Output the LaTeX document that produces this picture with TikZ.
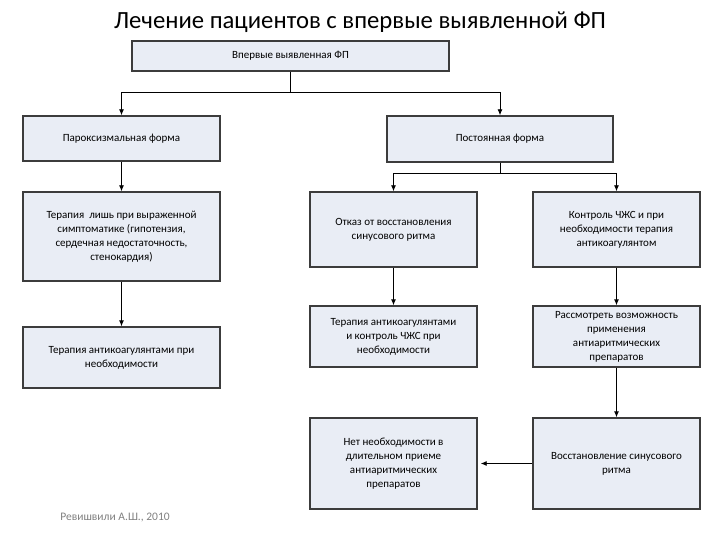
\documentclass[tikz,border=0pt]{standalone}
\usepackage{fontspec}
\setmainfont{Carlito}
\usetikzlibrary{arrows.meta}
\definecolor{boxfill}{HTML}{E9EDF5}
\definecolor{boxline}{HTML}{3C3C3C}
\tikzset{
  box/.style={draw=boxline, line width=1.4pt, fill=boxfill, align=center,
    inner sep=2pt, font=\fontsize{11}{14}\selectfont},
  link/.style={line width=0.9pt, ->}
}
\begin{document}
\begin{tikzpicture}[x=1pt, y=-1pt, >={Latex[length=6pt,width=5pt]}]
	\useasboundingbox (0,0) rectangle (720,540);
	%\draw[lightgray] (0,0) grid[step=20] (720,540);
	\node (title) at (360,22) {\fontsize{24.7}{28}\selectfont Лечение пациентов с впервые выявленной ФП};
	% first row
	\node[box, minimum width=317pt, minimum height=30pt] (first) at (290.5,56) {Впервые выявленная ФП};
	\node[box, minimum width=197pt, minimum height=45pt] (parox) at (121.5,138.5) {Пароксизмальная форма};
	\node[box, minimum width=226pt, minimum height=46pt] (perm) at (500,139) {Постоянная форма};
	% left column
	\node[box, minimum width=197pt, minimum height=89pt] (sympt) at (121.5,236.5) {Терапия \ лишь при выраженной\\симптоматике (гипотензия,\\сердечная недостаточность,\\стенокардия)};
	\node[box, minimum width=197pt, minimum height=61pt] (anticoag) at (121.5,357.5) {Терапия антикоагулянтами при\\необходимости};
	% middle column
	\node[box, minimum width=167pt, minimum height=75pt] (refuse) at (393.5,229.5) {Отказ от восстановления\\синусового ритма};
	\node[box, minimum width=167pt, minimum height=61pt] (rate) at (393.5,336.5) {Терапия антикоагулянтами\\и контроль ЧЖС при\\необходимости};
	\node[box, minimum width=167pt, minimum height=91pt] (noneed) at (393.5,463.5) {Нет необходимости в\\длительном приеме\\антиаритмических\\препаратов};
	% right column
	\node[box, minimum width=167pt, minimum height=75pt] (control) at (616.5,229.5) {Контроль ЧЖС и при\\необходимости терапия\\антикоагулянтом};
	\node[box, minimum width=167pt, minimum height=61pt] (consider) at (616.5,336.5) {Рассмотреть возможность\\применения\\антиаритмических\\препаратов};
	\node[box, minimum width=167pt, minimum height=91pt] (restore) at (616.5,463.5) {Восстановление синусового\\ритма};
	% connectors
	\draw[link] (first.south) -- ++(0,21) -| (parox);
	\draw[link] (first.south) -- ++(0,21) -| (perm);
	\draw[link] (perm.south) -- ++(0,11) -| (refuse);
	\draw[link] (perm.south) -- ++(0,11) -| (control);
	\draw[link] (parox) -- (sympt);
	\draw[link] (sympt) -- (anticoag);
	\draw[link] (refuse) -- (rate);
	\draw[link] (control) -- (consider);
	\draw[link] (consider) -- (restore);
	\draw[link, shorten >=3pt] (restore) -- (noneed);
	\node[text=gray, font=\fontsize{11.5}{13}\selectfont] (source) at (115,518) {Ревишвили А.Ш., 2010};
\end{tikzpicture}
\end{document}
